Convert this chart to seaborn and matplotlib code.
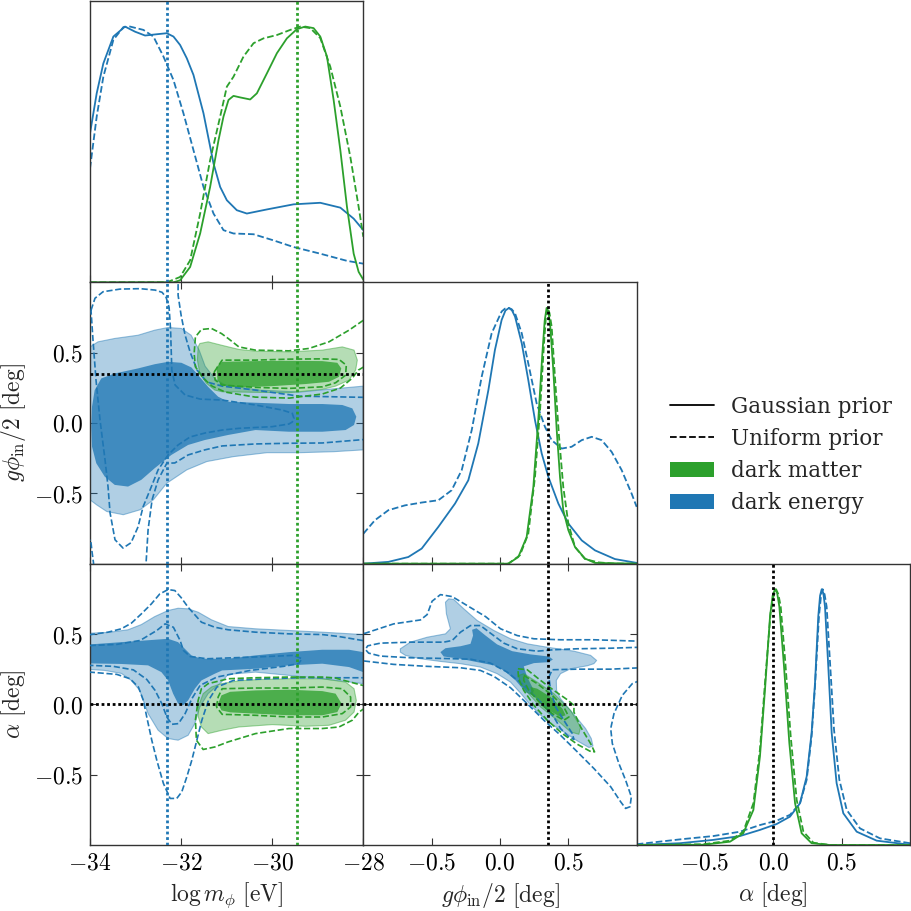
import numpy as np
import pandas as pd
import matplotlib
matplotlib.use("Agg")
import matplotlib.pyplot as plt
import seaborn as sns
from matplotlib.lines import Line2D
from matplotlib.patches import Patch
from matplotlib.ticker import FuncFormatter, FixedLocator

# ------------------------------------------------------------------ data
BLUE = "#1f77b4"
GREEN = "#2ca02c"

m_true_de, m_true_dm, g_true, a_true = -32.3, -29.46, 0.35, 0.0
m_ticks = [-34, -32, -30, -28]
ga_ticks = [-0.5, 0.0, 0.5]

# 1D marginals (normalised to peak 1): log m_phi
m_de_gauss = [-34.0, -33.853, -33.707, -33.487, -33.231, -33.011, -32.791, -32.535, -32.315, -32.168, -32.022, -31.875,
              -31.729, -31.509, -31.289, -31.143, -30.996, -30.777, -30.557, -30.117, -29.531, -28.945, -28.505, -28.212, -28.0]
p_m_de_gauss = [0.582, 0.739, 0.856, 0.961, 1.0, 0.980, 0.965, 0.970, 0.974, 0.961, 0.928, 0.876,
                0.811, 0.661, 0.465, 0.373, 0.321, 0.282, 0.269, 0.285, 0.305, 0.311, 0.292, 0.249, 0.204]
m_de_unif = [-34.0, -33.853, -33.707, -33.487, -33.267, -33.121, -32.828, -32.608, -32.388, -32.168, -31.949, -31.729,
             -31.509, -31.289, -31.070, -30.850, -30.410, -29.971, -29.531, -28.945, -28.359, -28.0]
p_m_de_unif = [0.445, 0.648, 0.804, 0.948, 0.998, 1.0, 0.987, 0.961, 0.883, 0.791, 0.661, 0.517,
               0.373, 0.269, 0.204, 0.191, 0.188, 0.164, 0.138, 0.112, 0.084, 0.073]
m_dm_gauss = [-34.0, -32.168, -32.022, -31.802, -31.582, -31.363, -31.179, -31.070, -30.960, -30.850, -30.703, -30.484,
              -30.337, -30.117, -29.897, -29.678, -29.458, -29.275, -29.092, -28.945, -28.799, -28.652, -28.505,
              -28.359, -28.212, -28.103, -28.0]
p_m_dm_gauss = [0.0, 0.0, 0.008, 0.060, 0.191, 0.373, 0.556, 0.648, 0.713, 0.729, 0.723, 0.715,
                0.739, 0.817, 0.896, 0.954, 0.990, 1.0, 0.994, 0.961, 0.883, 0.713, 0.517,
                0.295, 0.112, 0.041, 0.010]
m_dm_unif = [-34.0, -32.315, -32.022, -31.802, -31.582, -31.363, -31.143, -30.996, -30.850, -30.630, -30.410, -30.190,
             -29.897, -29.604, -29.385, -29.165, -28.945, -28.725, -28.505, -28.286, -28.103, -28.0]
p_m_dm_unif = [0.0, 0.0, 0.021, 0.086, 0.269, 0.478, 0.648, 0.765, 0.804, 0.883, 0.935, 0.954,
               0.967, 0.987, 1.0, 0.994, 0.955, 0.843, 0.687, 0.491, 0.295, 0.178]

# 1D marginals: g phi_in / 2
g_de_gauss = [-1.0, -0.817, -0.671, -0.573, -0.451, -0.329, -0.232, -0.159, -0.085, -0.037, 0.012, 0.040, 0.066,
              0.088, 0.110, 0.159, 0.207, 0.256, 0.305, 0.354, 0.427, 0.5, 0.598, 0.695, 0.841, 1.0]
p_g_de_gauss = [0.0, 0.007, 0.026, 0.059, 0.144, 0.235, 0.326, 0.470, 0.679, 0.836, 0.953, 0.990, 1.0,
                0.990, 0.966, 0.862, 0.718, 0.561, 0.431, 0.339, 0.235, 0.157, 0.091, 0.052, 0.018, 0.003]
g_de_unif = [-1.0, -0.915, -0.817, -0.695, -0.573, -0.451, -0.354, -0.280, -0.207, -0.134, -0.061, 0.012, 0.036,
             0.061, 0.085, 0.110, 0.159, 0.207, 0.268, 0.329, 0.378, 0.451, 0.524, 0.598, 0.671, 0.744, 0.817,
             0.890, 0.963, 1.0]
p_g_de_unif = [0.117, 0.170, 0.209, 0.228, 0.239, 0.248, 0.287, 0.366, 0.522, 0.731, 0.901, 0.986, 0.997,
               1.0, 0.995, 0.979, 0.901, 0.783, 0.627, 0.535, 0.483, 0.450, 0.457, 0.483, 0.496, 0.483, 0.437,
               0.366, 0.274, 0.222]
g_dm_gauss = [-1.0, 0.061, 0.134, 0.195, 0.244, 0.280, 0.310, 0.327, 0.341, 0.353, 0.366, 0.390, 0.415, 0.439,
              0.463, 0.5, 0.549, 0.622, 0.695, 1.0]
p_g_dm_gauss = [0.0, 0.0, 0.026, 0.104, 0.300, 0.561, 0.822, 0.950, 1.0, 0.985, 0.940, 0.757, 0.522, 0.339,
                0.209, 0.131, 0.065, 0.020, 0.003, 0.0]
g_dm_unif = [-1.0, 0.061, 0.146, 0.207, 0.256, 0.293, 0.322, 0.336, 0.349, 0.362, 0.378, 0.402, 0.432, 0.463,
             0.5, 0.549, 0.622, 0.720, 0.841, 1.0]
p_g_dm_unif = [0.0, 0.0, 0.033, 0.117, 0.339, 0.600, 0.862, 0.965, 1.0, 0.980, 0.927, 0.731, 0.496, 0.300,
               0.157, 0.065, 0.018, 0.005, 0.0, 0.0]

# 1D marginals: alpha
a_dm_gauss = [-1.0, -0.512, -0.317, -0.220, -0.146, -0.098, -0.061, -0.024, -0.005, 0.012, 0.028, 0.044, 0.078,
              0.117, 0.159, 0.207, 0.280, 0.415, 1.0]
p_a_dm_gauss = [0.0, 0.001, 0.013, 0.046, 0.137, 0.346, 0.608, 0.895, 0.975, 1.0, 0.985, 0.932, 0.699,
                0.399, 0.163, 0.046, 0.007, 0.0, 0.0]
a_dm_unif = [-1.0, -0.512, -0.317, -0.220, -0.146, -0.098, -0.061, -0.020, 0.000, 0.020, 0.037, 0.054, 0.088,
             0.127, 0.171, 0.220, 0.293, 0.415, 1.0]
p_a_dm_unif = [0.0, 0.003, 0.017, 0.052, 0.163, 0.373, 0.634, 0.908, 0.970, 1.0, 0.980, 0.932, 0.712,
               0.425, 0.176, 0.052, 0.009, 0.0, 0.0]
a_de_gauss = [-1.0, -0.683, -0.439, -0.244, -0.098, 0.024, 0.122, 0.195, 0.244, 0.280, 0.305, 0.329, 0.342,
              0.354, 0.366, 0.378, 0.402, 0.427, 0.463, 0.512, 0.610, 0.756, 1.0]
p_a_de_gauss = [0.0, 0.007, 0.020, 0.035, 0.059, 0.082, 0.111, 0.163, 0.268, 0.438, 0.634, 0.895, 0.975,
                1.0, 0.985, 0.932, 0.699, 0.438, 0.242, 0.124, 0.052, 0.017, 0.001]
a_de_unif = [-1.0, -0.683, -0.439, -0.244, -0.098, 0.024, 0.122, 0.195, 0.244, 0.280, 0.305, 0.334, 0.348,
             0.361, 0.375, 0.390, 0.415, 0.444, 0.483, 0.537, 0.634, 0.780, 1.0]
p_a_de_unif = [0.003, 0.022, 0.035, 0.052, 0.078, 0.095, 0.118, 0.163, 0.255, 0.425, 0.621, 0.895, 0.970,
               1.0, 0.980, 0.932, 0.712, 0.451, 0.255, 0.137, 0.065, 0.026, 0.007]

# 2D credible regions: (log m, g phi/2)
mg_de_gauss_95 = [(-34.0, 0.541), (-33.824, 0.577), (-33.457, 0.601), (-32.945, 0.624), (-32.578, 0.660),
                  (-32.286, 0.679), (-31.993, 0.672), (-31.780, 0.624), (-31.604, 0.518), (-31.473, 0.404),
                  (-31.253, 0.312), (-31.033, 0.270), (-30.264, 0.234), (-29.385, 0.220), (-28.725, 0.241),
                  (-28.0, 0.262), (-28.0, -0.191), (-28.653, -0.204), (-29.385, -0.211), (-30.116, -0.211),
                  (-30.851, -0.239), (-31.435, -0.274), (-31.875, -0.333), (-32.314, -0.428), (-32.609, -0.546),
                  (-32.901, -0.617), (-33.268, -0.652), (-33.633, -0.629), (-33.853, -0.582), (-34.0, -0.546)]
mg_de_gauss_68 = [(-33.971, -0.026), (-33.956, 0.116), (-33.897, 0.234), (-33.752, 0.317), (-33.457, 0.352),
                  (-32.945, 0.388), (-32.578, 0.418), (-32.286, 0.435), (-31.993, 0.428), (-31.774, 0.395),
                  (-31.626, 0.340), (-31.407, 0.257), (-31.187, 0.187), (-30.967, 0.151), (-30.367, 0.144),
                  (-29.633, 0.135), (-28.901, 0.135), (-28.462, 0.128), (-28.242, 0.104), (-28.154, 0.045),
                  (-28.204, -0.014), (-28.389, -0.050), (-28.901, -0.062), (-29.633, -0.062), (-30.367, -0.050),
                  (-30.967, -0.085), (-31.479, -0.121), (-31.846, -0.156), (-32.213, -0.227), (-32.578, -0.321),
                  (-32.873, -0.404), (-33.165, -0.452), (-33.457, -0.440), (-33.677, -0.381), (-33.862, -0.286),
                  (-33.956, -0.168)]
mg_dm_gauss_95 = [(-31.642, 0.447), (-31.626, 0.541), (-31.589, 0.565), (-31.407, 0.577), (-31.114, 0.553),
                  (-30.732, 0.523), (-30.367, 0.511), (-29.633, 0.506), (-28.901, 0.518), (-28.462, 0.541),
                  (-28.204, 0.518), (-28.132, 0.447), (-28.169, 0.376), (-28.314, 0.305), (-28.609, 0.262),
                  (-28.901, 0.239), (-29.633, 0.215), (-30.367, 0.218), (-31.099, 0.222), (-31.259, 0.234),
                  (-31.444, 0.282), (-31.589, 0.352)]
mg_dm_gauss_68 = [(-31.224, 0.399), (-31.099, 0.435), (-30.367, 0.440), (-29.633, 0.442), (-28.901, 0.440),
                  (-28.571, 0.428), (-28.484, 0.388), (-28.534, 0.328), (-28.754, 0.293), (-29.268, 0.277),
                  (-30.0, 0.262), (-30.732, 0.253), (-31.114, 0.270), (-31.202, 0.305)]
mg_dm_unif_95 = [(-28.0, 0.730), (-28.314, 0.660), (-28.754, 0.577), (-29.193, 0.530), (-29.633, 0.513),
                 (-30.367, 0.518), (-30.732, 0.541), (-30.967, 0.601), (-31.114, 0.636), (-31.334, 0.672),
                 (-31.554, 0.665), (-31.686, 0.612), (-31.714, 0.494), (-31.686, 0.399), (-31.516, 0.319),
                 (-31.319, 0.262), (-31.033, 0.220), (-30.374, 0.184), (-29.626, 0.177), (-28.901, 0.206),
                 (-28.505, 0.248), (-28.242, 0.319), (-28.110, 0.376), (-28.0, 0.397)]
mg_dm_unif_68 = [(-31.275, 0.362), (-31.149, 0.423), (-31.099, 0.447), (-30.367, 0.447), (-29.633, 0.454),
                 (-28.901, 0.456), (-28.534, 0.452), (-28.374, 0.411), (-28.389, 0.340), (-28.609, 0.286),
                 (-28.901, 0.257), (-29.633, 0.246), (-30.367, 0.253), (-31.099, 0.270), (-31.253, 0.305),
                 (-31.275, 0.362)]
mg_de_unif_68 = [(-33.978, 0.801), (-33.890, 0.887), (-33.714, 0.933), (-33.341, 0.952), (-32.901, 0.955),
                 (-32.571, 0.945), (-32.418, 0.929), (-32.330, 0.894), (-32.264, 0.823), (-32.231, 0.660),
                 (-32.204, 0.376), (-32.132, 0.270), (-31.912, 0.199), (-31.582, 0.170), (-31.099, 0.163),
                 (-30.367, 0.128), (-29.780, 0.092), (-29.560, 0.069), (-29.523, 0.033), (-29.560, 0.007),
                 (-29.633, -0.007), (-30.0, -0.026), (-30.732, -0.038), (-31.099, -0.050), (-31.473, -0.071),
                 (-31.802, -0.099), (-32.066, -0.156), (-32.286, -0.227), (-32.505, -0.333), (-32.681, -0.475),
                 (-32.835, -0.596), (-32.945, -0.738), (-33.099, -0.851), (-33.275, -0.889), (-33.451, -0.830),
                 (-33.560, -0.638), (-33.604, -0.454), (-33.670, -0.262), (-33.780, 0.021), (-33.868, 0.305),
                 (-33.934, 0.589), (-33.978, 0.801)]
mg_de_unif_95_top = [(-32.066, 1.05), (-32.066, 1.0), (-32.066, 0.908), (-32.0, 0.766), (-31.912, 0.624),
                     (-31.802, 0.504), (-31.648, 0.376), (-31.429, 0.291), (-31.099, 0.262), (-30.374, 0.234),
                     (-29.407, 0.191), (-27.934, 0.182), (-27.6, 0.182)]
mg_de_unif_95_bot = [(-27.7, -0.116), (-27.934, -0.116), (-28.901, -0.142), (-29.626, -0.144), (-30.374, -0.149),
                     (-31.099, -0.163), (-31.479, -0.191), (-31.846, -0.227), (-32.138, -0.284), (-32.314, -0.286),
                     (-32.505, -0.404), (-32.637, -0.546), (-32.725, -0.759), (-32.769, -0.995), (-32.79, -1.11)]
mg_de_unif_95_corner = [(-34.11, -0.851), (-33.985, -0.830), (-33.956, -0.915), (-33.923, -0.995), (-33.912, -1.08)]

# 2D credible regions: (log m, alpha)
ma_de_gauss_95 = [(-34.0, 0.506), (-33.604, 0.511), (-33.165, 0.530), (-32.873, 0.567), (-32.578, 0.624),
                  (-32.286, 0.667), (-32.066, 0.683), (-31.846, 0.679), (-31.626, 0.655), (-31.334, 0.601),
                  (-30.967, 0.553), (-30.367, 0.537), (-29.633, 0.525), (-28.901, 0.513), (-28.0, 0.496),
                  (-28.0, 0.147), (-28.901, 0.182), (-29.633, 0.206), (-30.367, 0.229), (-30.967, 0.213),
                  (-31.114, 0.158), (-31.407, 0.076), (-31.589, -0.019), (-31.699, -0.137), (-31.846, -0.220),
                  (-32.066, -0.255), (-32.286, -0.243), (-32.505, -0.184), (-32.725, -0.066), (-32.908, 0.099),
                  (-33.092, 0.170), (-33.312, 0.220), (-33.677, 0.241), (-34.0, 0.248)]
ma_de_gauss_68 = [(-34.0, 0.426), (-33.312, 0.442), (-32.578, 0.459), (-32.286, 0.466), (-32.066, 0.442),
                  (-31.919, 0.395), (-31.774, 0.348), (-31.554, 0.324), (-30.967, 0.324), (-30.367, 0.348),
                  (-29.633, 0.371), (-28.901, 0.388), (-28.314, 0.388), (-28.0, 0.371), (-28.0, 0.229),
                  (-28.314, 0.265), (-28.901, 0.289), (-29.633, 0.277), (-30.367, 0.253), (-31.099, 0.241),
                  (-31.259, 0.218), (-31.554, 0.170), (-31.699, 0.111), (-31.846, 0.028), (-31.956, -0.007),
                  (-32.066, 0.005), (-32.176, 0.076), (-32.286, 0.170), (-32.433, 0.229), (-32.725, 0.277),
                  (-33.312, 0.287), (-34.0, 0.291)]
ma_dm_gauss_95 = [(-31.626, -0.019), (-31.516, 0.076), (-31.334, 0.123), (-31.114, 0.147), (-30.732, 0.167),
                  (-30.367, 0.175), (-29.633, 0.182), (-28.901, 0.182), (-28.389, 0.158), (-28.204, 0.111),
                  (-28.154, 0.028), (-28.204, -0.055), (-28.389, -0.113), (-28.754, -0.149), (-29.268, -0.156),
                  (-30.0, -0.144), (-30.732, -0.161), (-31.099, -0.184), (-31.407, -0.208), (-31.554, -0.161),
                  (-31.626, -0.085)]
ma_dm_gauss_68 = [(-31.187, 0.005), (-31.114, 0.064), (-30.923, 0.089), (-30.367, 0.099), (-29.633, 0.104),
                  (-28.901, 0.094), (-28.609, 0.076), (-28.477, 0.005), (-28.571, -0.055), (-28.901, -0.078),
                  (-29.633, -0.078), (-30.367, -0.066), (-30.923, -0.057), (-31.114, -0.043)]
ma_dm_unif_95 = [(-27.934, 0.128), (-28.286, 0.158), (-28.615, 0.187), (-28.901, 0.194), (-29.633, 0.194),
                 (-30.367, 0.189), (-30.967, 0.182), (-31.114, 0.170), (-31.407, 0.147), (-31.554, 0.111),
                 (-31.626, 0.028), (-31.686, -0.113), (-31.664, -0.255), (-31.516, -0.321), (-31.259, -0.303),
                 (-30.967, -0.267), (-30.367, -0.208), (-29.633, -0.172), (-28.901, -0.172), (-28.534, -0.161),
                 (-28.242, -0.113), (-28.095, -0.055), (-27.934, -0.019)]
ma_dm_unif_68 = [(-31.224, -0.019), (-31.187, 0.052), (-31.099, 0.111), (-30.367, 0.116), (-29.633, 0.116),
                 (-28.901, 0.123), (-28.462, 0.111), (-28.279, 0.052), (-28.279, -0.019), (-28.462, -0.066),
                 (-28.901, -0.090), (-29.633, -0.090), (-30.367, -0.078), (-31.099, -0.071), (-31.224, -0.019)]
ma_de_unif_95_top = [(-34.22, 0.489), (-33.985, 0.496), (-33.604, 0.513), (-33.312, 0.537), (-33.092, 0.577),
                     (-32.873, 0.643), (-32.653, 0.714), (-32.468, 0.785), (-32.286, 0.816), (-32.138, 0.809),
                     (-32.0, 0.759), (-31.846, 0.690), (-31.554, 0.584), (-31.259, 0.548), (-30.967, 0.530),
                     (-30.367, 0.513), (-29.633, 0.501), (-28.901, 0.496), (-28.534, 0.482), (-28.022, 0.454),
                     (-27.736, 0.440)]
ma_de_unif_95_bot = [(-34.22, 0.229), (-34.0, 0.229), (-33.413, 0.213), (-33.121, 0.182), (-32.938, 0.123),
                     (-32.829, 0.028), (-32.754, -0.090), (-32.644, -0.255), (-32.534, -0.397), (-32.389, -0.562),
                     (-32.242, -0.669), (-32.095, -0.669), (-31.985, -0.622), (-31.875, -0.516), (-31.765, -0.397),
                     (-31.655, -0.255), (-31.545, -0.113), (-31.400, 0.028), (-31.215, 0.123), (-30.851, 0.170),
                     (-30.116, 0.182), (-29.385, 0.189), (-27.993, 0.189), (-27.736, 0.189)]
ma_de_unif_68 = [(-34.2, 0.418), (-34.0, 0.418), (-33.413, 0.426), (-32.901, 0.454), (-32.534, 0.525),
                 (-32.352, 0.572), (-32.169, 0.548), (-32.022, 0.454), (-31.949, 0.383), (-31.802, 0.340),
                 (-31.435, 0.324), (-30.851, 0.331), (-30.116, 0.340), (-29.532, 0.348), (-29.347, 0.324),
                 (-29.422, 0.289), (-29.752, 0.270), (-30.484, 0.241), (-31.215, 0.194), (-31.582, 0.135),
                 (-31.765, 0.040), (-31.912, -0.066), (-32.059, -0.137), (-32.204, -0.142), (-32.314, -0.090),
                 (-32.424, 0.005), (-32.571, 0.099), (-32.754, 0.177), (-33.048, 0.245), (-33.488, 0.270),
                 (-34.0, 0.277), (-34.2, 0.277)]

# 2D credible regions: (g phi/2, alpha)
ga_de_gauss_95 = [(-0.729, 0.395), (-0.656, 0.442), (-0.533, 0.477), (-0.399, 0.501), (-0.363, 0.537),
                  (-0.392, 0.643), (-0.399, 0.726), (-0.375, 0.750), (-0.338, 0.745), (-0.265, 0.679),
                  (-0.167, 0.596), (-0.045, 0.525), (0.077, 0.466), (0.199, 0.430), (0.346, 0.406),
                  (0.541, 0.378), (0.663, 0.348), (0.707, 0.312), (0.687, 0.289), (0.639, 0.274),
                  (0.516, 0.253), (0.443, 0.218), (0.412, 0.170), (0.414, 0.099), (0.443, 0.040),
                  (0.504, -0.030), (0.566, -0.101), (0.626, -0.172), (0.668, -0.243), (0.680, -0.296),
                  (0.651, -0.307), (0.566, -0.260), (0.467, -0.196), (0.370, -0.137), (0.284, -0.066),
                  (0.211, 0.009), (0.150, 0.080), (0.077, 0.158), (-0.021, 0.218), (-0.143, 0.265),
                  (-0.289, 0.289), (-0.436, 0.305), (-0.582, 0.324), (-0.692, 0.348), (-0.729, 0.371)]
ga_de_gauss_68 = [(-0.436, 0.371), (-0.399, 0.399), (-0.289, 0.413), (-0.216, 0.430), (-0.197, 0.489),
                  (-0.204, 0.530), (-0.172, 0.541), (-0.106, 0.489), (-0.021, 0.426), (0.089, 0.378),
                  (0.223, 0.355), (0.358, 0.340), (0.387, 0.319), (0.358, 0.300), (0.248, 0.293),
                  (0.174, 0.270), (0.199, 0.194), (0.248, 0.099), (0.236, 0.064), (0.187, 0.087),
                  (0.114, 0.170), (0.028, 0.241), (-0.045, 0.277), (-0.167, 0.300), (-0.289, 0.324),
                  (-0.412, 0.340)]
ga_dm_gauss_95 = [(0.138, 0.206), (0.174, 0.218), (0.273, 0.158), (0.394, 0.076), (0.516, -0.043),
                  (0.590, -0.161), (0.577, -0.213), (0.516, -0.196), (0.419, -0.113), (0.297, -0.019),
                  (0.199, 0.087), (0.145, 0.158)]
ga_dm_gauss_68 = [(0.223, 0.123), (0.273, 0.111), (0.370, 0.052), (0.456, -0.030), (0.480, -0.078),
                  (0.443, -0.090), (0.358, -0.043), (0.273, 0.028), (0.229, 0.087)]
ga_dm_unif_95 = [(0.131, 0.253), (0.199, 0.246), (0.297, 0.170), (0.394, 0.099), (0.492, 0.033),
                 (0.541, -0.007), (0.541, -0.055), (0.590, -0.161), (0.663, -0.279), (0.692, -0.338),
                 (0.658, -0.333), (0.566, -0.284), (0.456, -0.208), (0.346, -0.113), (0.248, -0.007),
                 (0.174, 0.099), (0.136, 0.182), (0.131, 0.253)]
ga_dm_unif_68 = [(0.174, 0.206), (0.273, 0.147), (0.382, 0.064), (0.467, -0.019), (0.504, -0.090),
                 (0.467, -0.113), (0.382, -0.066), (0.297, 0.005), (0.211, 0.099), (0.174, 0.170),
                 (0.174, 0.206)]
ga_de_unif_95_top = [(-1.06, 0.494), (-0.985, 0.506), (-0.778, 0.572), (-0.582, 0.600), (-0.533, 0.638),
                     (-0.497, 0.733), (-0.436, 0.780), (-0.350, 0.766), (-0.240, 0.702), (-0.106, 0.624),
                     (0.004, 0.537), (0.126, 0.489), (0.248, 0.466), (0.443, 0.459), (0.687, 0.459),
                     (1.017, 0.449)]
ga_de_unif_95_bot = [(-1.06, 0.314), (-0.985, 0.307), (-0.778, 0.284), (-0.533, 0.270), (-0.289, 0.260),
                     (-0.143, 0.241), (-0.045, 0.199), (0.077, 0.118), (0.199, 0.005), (0.321, -0.113),
                     (0.443, -0.220), (0.566, -0.338), (0.687, -0.456), (0.810, -0.586), (0.883, -0.693),
                     (0.919, -0.740), (0.951, -0.728), (0.961, -0.657), (0.919, -0.539), (0.870, -0.421),
                     (0.822, -0.279), (0.810, -0.172), (0.834, -0.066), (0.895, 0.064), (0.968, 0.147),
                     (1.03, 0.172)]
ga_de_unif_68 = [(1.03, 0.406), (0.810, 0.399), (0.566, 0.395), (0.394, 0.388), (0.273, 0.378),
                 (0.126, 0.395), (0.028, 0.435), (-0.070, 0.506), (-0.143, 0.560), (-0.216, 0.560),
                 (-0.289, 0.513), (-0.350, 0.454), (-0.412, 0.442), (-0.656, 0.442), (-0.875, 0.435),
                 (-0.968, 0.416), (-0.985, 0.390), (-0.961, 0.364), (-0.875, 0.343), (-0.656, 0.331),
                 (-0.412, 0.326), (-0.216, 0.321), (-0.070, 0.293), (0.053, 0.229), (0.174, 0.135),
                 (0.297, 0.016), (0.394, -0.090), (0.443, -0.172), (0.504, -0.232), (0.541, -0.250),
                 (0.529, -0.208), (0.467, -0.113), (0.407, -0.019), (0.370, 0.099), (0.358, 0.194),
                 (0.382, 0.246), (0.566, 0.250), (0.810, 0.250), (1.03, 0.260)]

# ------------------------------------------------------------------ style
sns.set_theme(style="ticks")
plt.rcParams.update({
    "font.family": ["DejaVu Serif"],
    "mathtext.fontset": "cm",
    "axes.edgecolor": "#333333",
    "axes.linewidth": 1.0,
    "xtick.color": "#333333",
    "ytick.color": "#333333",
    "xtick.labelcolor": "black",
    "ytick.labelcolor": "black",
})

fig, axes = plt.subplots(3, 3, figsize=(9.11, 9.11), dpi=100,
                         gridspec_kw=dict(left=90 / 911, right=910 / 911, top=1 - 1 / 911,
                                          bottom=1 - 845 / 911, wspace=0, hspace=0))

LW1 = 1.3
LWC = 1.2
DOT = (0, (1, 1))
TICKFS = 17
LABFS = 17


def line1d(ax, x, y, color, ls):
    df = pd.DataFrame({"x": x, "y": y})
    sns.lineplot(data=df, x="x", y="y", ax=ax, color=color, linestyle=ls, lw=LW1,
                 estimator=None, sort=False, legend=False)


def filled(ax, outer, inner, color, z):
    xo, yo = zip(*outer)
    ax.fill(xo, yo, facecolor=color, alpha=0.35, edgecolor="none", zorder=z)
    ax.plot(list(xo) + [xo[0]], list(yo) + [yo[0]], color=color, alpha=0.45, lw=0.8, zorder=z)
    xi, yi = zip(*inner)
    ax.fill(xi, yi, facecolor=color, alpha=0.77, edgecolor="none", zorder=z + 0.1)


def dashed(ax, pts, color, close=False):
    x, y = zip(*pts)
    x, y = list(x), list(y)
    if close:
        x.append(x[0]); y.append(y[0])
    ax.plot(x, y, color=color, ls="--", lw=LWC, zorder=5)


fmt_int = FuncFormatter(lambda v, p: f"${v:.0f}$")
fmt_dec = FuncFormatter(lambda v, p: f"${v:.1f}$")

lab_m = r"$\log m_\phi\ [\mathrm{eV}]$"
lab_g = r"$g\phi_{\rm in}/2\ [\mathrm{deg}]$"
lab_a = r"$\alpha\ [\mathrm{deg}]$"

# ---------------- 1D panels
ax = axes[0, 0]
line1d(ax, m_de_gauss, p_m_de_gauss, BLUE, "-")
line1d(ax, m_de_unif, p_m_de_unif, BLUE, "--")
line1d(ax, m_dm_gauss, p_m_dm_gauss, GREEN, "-")
line1d(ax, m_dm_unif, p_m_dm_unif, GREEN, "--")
ax.set_xlim(-34, -28)

ax = axes[1, 1]
line1d(ax, g_de_gauss, p_g_de_gauss, BLUE, "-")
line1d(ax, g_de_unif, p_g_de_unif, BLUE, "--")
line1d(ax, g_dm_gauss, p_g_dm_gauss, GREEN, "-")
line1d(ax, g_dm_unif, p_g_dm_unif, GREEN, "--")
ax.set_xlim(-1, 1)

ax = axes[2, 2]
line1d(ax, a_de_gauss, p_a_de_gauss, BLUE, "-")
line1d(ax, a_de_unif, p_a_de_unif, BLUE, "--")
line1d(ax, a_dm_gauss, p_a_dm_gauss, GREEN, "-")
line1d(ax, a_dm_unif, p_a_dm_unif, GREEN, "--")
ax.set_xlim(-1, 1)

for ax in (axes[0, 0], axes[1, 1], axes[2, 2]):
    ax.set_ylim(0, 1.1)
    ax.set_yticks([])
    ax.tick_params(axis="x", direction="in", length=5, width=0.8, bottom=True, top=False, pad=5)

# ---------------- 2D: log m vs g
ax = axes[1, 0]
filled(ax, mg_de_gauss_95, mg_de_gauss_68, BLUE, 1)
filled(ax, mg_dm_gauss_95, mg_dm_gauss_68, GREEN, 2)
dashed(ax, mg_de_unif_68, BLUE)
dashed(ax, mg_de_unif_95_top, BLUE)
dashed(ax, mg_de_unif_95_bot, BLUE)
dashed(ax, mg_de_unif_95_corner, BLUE)
dashed(ax, mg_dm_unif_95, GREEN)
dashed(ax, mg_dm_unif_68, GREEN)
ax.set_xlim(-34, -28); ax.set_ylim(-1, 1)

# ---------------- 2D: log m vs alpha
ax = axes[2, 0]
filled(ax, ma_de_gauss_95, ma_de_gauss_68, BLUE, 1)
filled(ax, ma_dm_gauss_95, ma_dm_gauss_68, GREEN, 2)
dashed(ax, ma_de_unif_95_top, BLUE)
dashed(ax, ma_de_unif_95_bot, BLUE)
dashed(ax, ma_de_unif_68, BLUE)
dashed(ax, ma_dm_unif_95, GREEN)
dashed(ax, ma_dm_unif_68, GREEN)
ax.set_xlim(-34, -28); ax.set_ylim(-1, 1)

# ---------------- 2D: g vs alpha
ax = axes[2, 1]
filled(ax, ga_de_gauss_95, ga_de_gauss_68, BLUE, 1)
filled(ax, ga_dm_gauss_95, ga_dm_gauss_68, GREEN, 2)
dashed(ax, ga_de_unif_95_top, BLUE)
dashed(ax, ga_de_unif_95_bot, BLUE)
dashed(ax, ga_de_unif_68, BLUE)
dashed(ax, ga_dm_unif_95, GREEN)
dashed(ax, ga_dm_unif_68, GREEN)
ax.set_xlim(-1, 1); ax.set_ylim(-1, 1)

for ax in (axes[1, 0], axes[2, 0], axes[2, 1]):
    ax.tick_params(direction="in", length=5, width=0.8, top=True, right=True, pad=5)

# ---------------- truth lines
for r in range(3):
    axes[r, 0].axvline(m_true_de, color=BLUE, ls=DOT, lw=2.0, zorder=7)
    axes[r, 0].axvline(m_true_dm, color=GREEN, ls=DOT, lw=2.0, zorder=7)
axes[1, 0].axhline(g_true, color="black", ls=DOT, lw=2.0, zorder=8)
axes[2, 0].axhline(a_true, color="black", ls=DOT, lw=2.0, zorder=8)
axes[1, 1].axvline(g_true, color="black", ls=DOT, lw=2.0, zorder=8)
axes[2, 1].axvline(g_true, color="black", ls=DOT, lw=2.0, zorder=8)
axes[2, 1].axhline(a_true, color="black", ls=DOT, lw=2.0, zorder=8)
axes[2, 2].axvline(a_true, color="black", ls=DOT, lw=2.0, zorder=8)

# ---------------- ticks & labels
for r in range(3):
    for c in range(3):
        ax = axes[r, c]
        if c > r:
            ax.set_axis_off()
            continue
        ax.set_xlabel(""); ax.set_ylabel("")
        if c == 0:
            ax.xaxis.set_major_locator(FixedLocator(m_ticks))
            ax.xaxis.set_major_formatter(fmt_int)
        else:
            ax.xaxis.set_major_locator(FixedLocator(ga_ticks))
            ax.xaxis.set_major_formatter(fmt_dec)
        if r != c:
            ax.yaxis.set_major_locator(FixedLocator(ga_ticks))
            ax.yaxis.set_major_formatter(fmt_dec)
        if r < 2:
            ax.tick_params(labelbottom=False)
        if c > 0 or r == 0:
            ax.tick_params(labelleft=False)
        ax.tick_params(labelsize=TICKFS)

axes[2, 0].set_xlabel(lab_m, fontsize=LABFS)
axes[2, 1].set_xlabel(lab_g, fontsize=LABFS)
axes[2, 2].set_xlabel(lab_a, fontsize=LABFS)
axes[1, 0].set_ylabel(lab_g, fontsize=LABFS)
axes[2, 0].set_ylabel(lab_a, fontsize=LABFS)

# ---------------- legend
handles = [Line2D([], [], color="black", lw=LW1, ls="-"),
           Line2D([], [], color="black", lw=LW1, ls="--"),
           Patch(facecolor=GREEN, edgecolor="none"),
           Patch(facecolor=BLUE, edgecolor="none")]
labels = ["Gaussian prior", "Uniform prior", "dark matter", "dark energy"]
fig.legend(handles, labels, loc="upper left", bbox_to_anchor=(661 / 911, 1 - 387 / 911),
           frameon=False, fontsize=15.5, handlelength=2.05, handleheight=0.74, labelspacing=0.47,
           handletextpad=0.79, borderaxespad=0)

fig.savefig("out.png", dpi=100)
